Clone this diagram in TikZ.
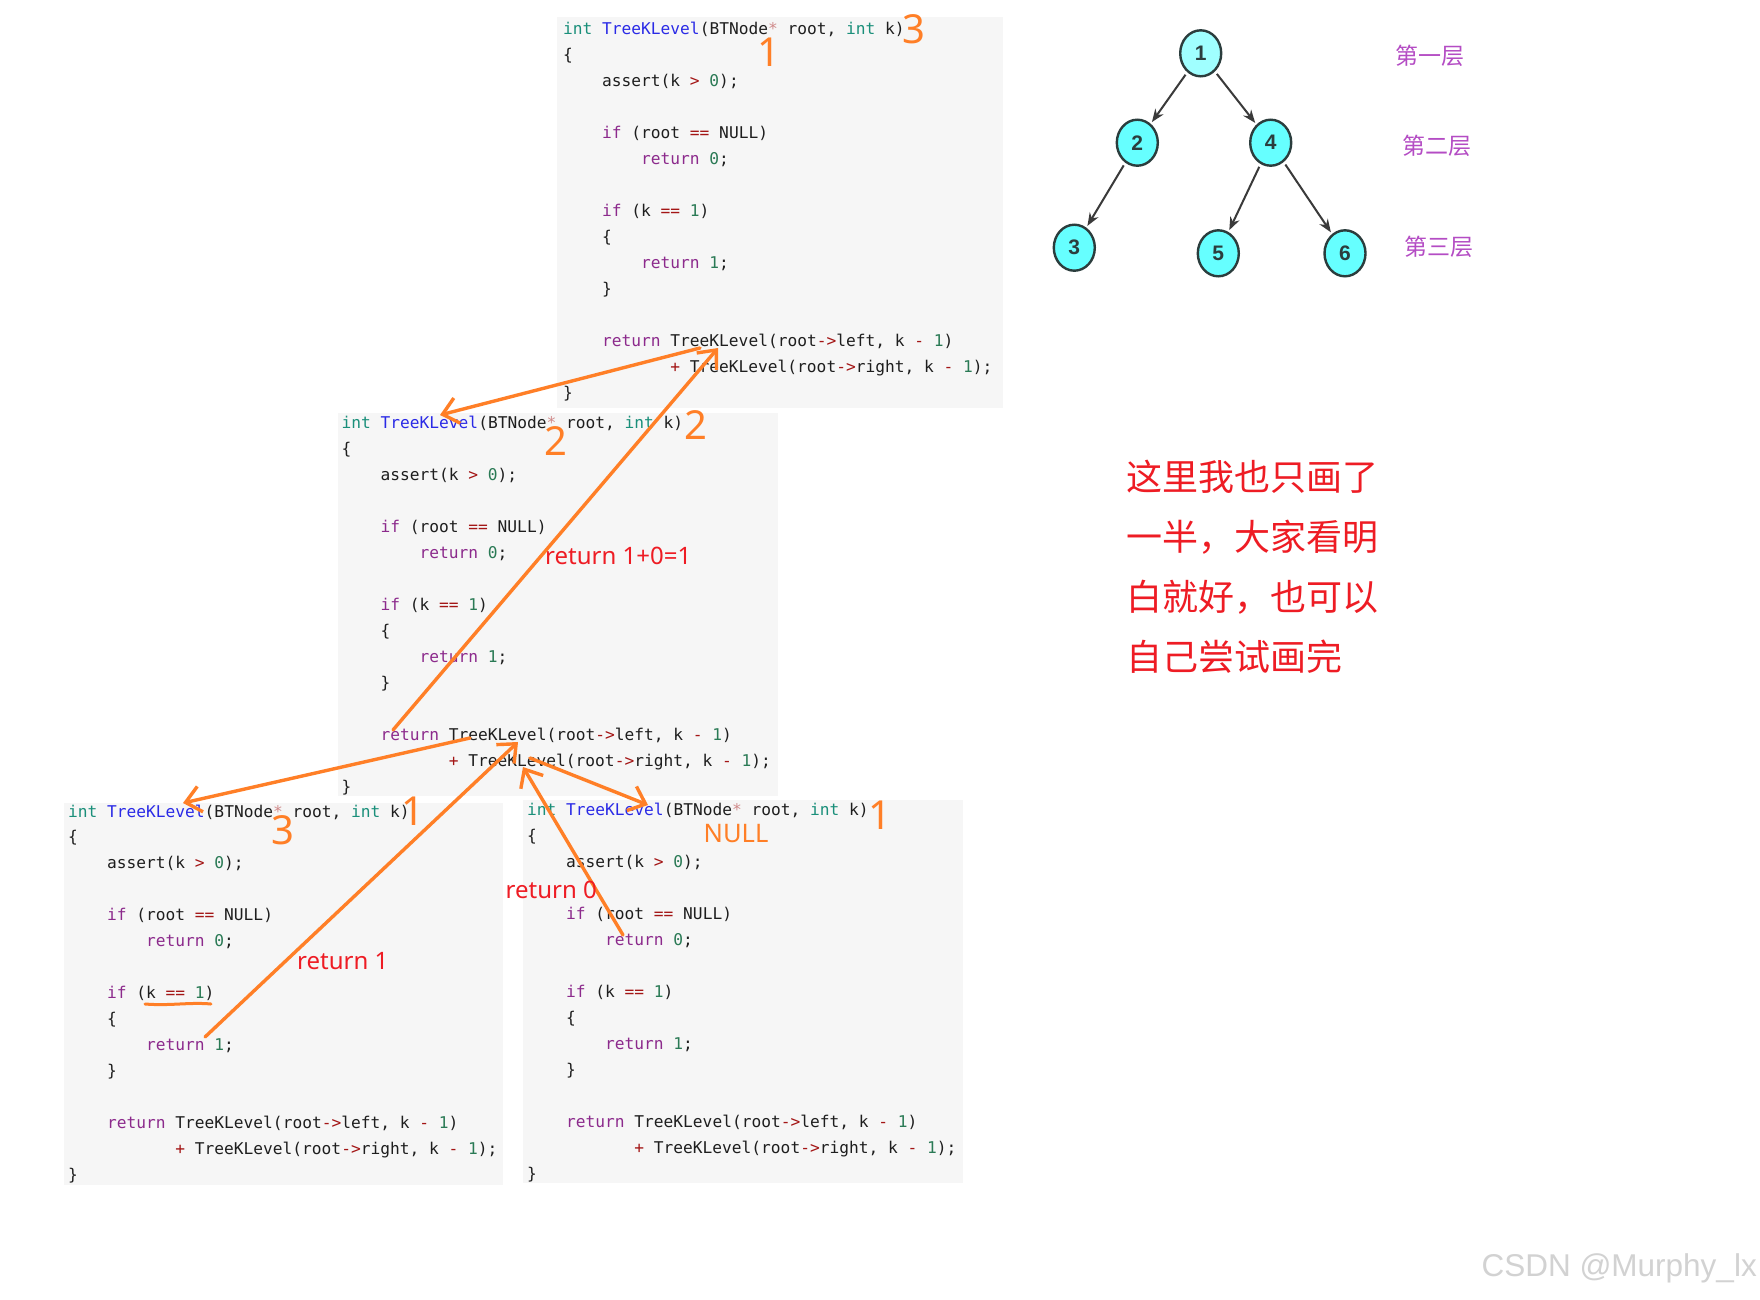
\documentclass[tikz,border=0pt]{standalone}
\usepackage{fontspec}
\setmonofont{DejaVu Sans Mono}
\newfontfamily\annfont{Noto Sans}
\newfontfamily\cjkfont{Noto Sans CJK SC}
\newfontfamily\wmfont{Liberation Sans}
\newfontfamily\treefont{Liberation Sans}
\usetikzlibrary{arrows.meta,shapes.geometric,calc}

\definecolor{codebg}{HTML}{F6F6F6}
\definecolor{ckw}{HTML}{1A8F7A}
\definecolor{cfn}{HTML}{2A2AE6}
\definecolor{cctl}{HTML}{8C2A8C}
\definecolor{cnum}{HTML}{2A7A55}
\definecolor{cop}{HTML}{A31515}
\definecolor{cptr}{HTML}{D08A8A}
\definecolor{ctxt}{HTML}{1E1E1E}
\definecolor{anorange}{HTML}{FF7F27}
\definecolor{anred}{HTML}{EE1C24}
\definecolor{lvl}{HTML}{B44CC4}
\definecolor{nodecyan}{HTML}{66FFFF}
\definecolor{nodecyanlt}{HTML}{A0FFFF}
\definecolor{nodeedge}{HTML}{2B3D3D}
\definecolor{treeline}{HTML}{3A3A3A}
\definecolor{wmgray}{HTML}{D2D2D2}

\newcommand\cdkw[1]{\textcolor{ckw}{#1}}
\newcommand\cdfn[1]{\textcolor{cfn}{#1}}
\newcommand\cdctl[1]{\textcolor{cctl}{#1}}
\newcommand\cdnum[1]{\textcolor{cnum}{#1}}
\newcommand\cdop[1]{\textcolor{cop}{#1}}
\newcommand\cdptr[1]{\textcolor{cptr}{#1}}
\def\cw{9.75}
\def\lp{25.97}

% #1 name, #2 box left, #3 box top, #4 box right, #5 box bottom, #6 text x, #7 first baseline
\newcommand\codeblock[7]{%
  \path (#2,#3) coordinate (#1-nw) (#4,#5) coordinate (#1-se);
  \fill[codebg] (#1-nw) rectangle (#1-se);
  \node[codeline] (#1-l1) at (#6,#7) {\cdkw{int} \cdfn{TreeKLevel}(BTNode\cdptr{*} root, \cdkw{int} k)};
  \node[codeline] (#1-l2) at (#6,{#7+1*\lp}) {\{};
  \node[codeline] (#1-l3) at ({#6+4*\cw},{#7+2*\lp}) {assert(k \cdop{>} \cdnum{0});};
  \node[codeline] (#1-l5) at ({#6+4*\cw},{#7+4*\lp}) {\cdctl{if} (root \cdop{==} NULL)};
  \node[codeline] (#1-l6) at ({#6+8*\cw},{#7+5*\lp}) {\cdctl{return} \cdnum{0};};
  \node[codeline] (#1-l8) at ({#6+4*\cw},{#7+7*\lp}) {\cdctl{if} (k \cdop{==} \cdnum{1})};
  \node[codeline] (#1-l9) at ({#6+4*\cw},{#7+8*\lp}) {\{};
  \node[codeline] (#1-l10) at ({#6+8*\cw},{#7+9*\lp}) {\cdctl{return} \cdnum{1};};
  \node[codeline] (#1-l11) at ({#6+4*\cw},{#7+10*\lp}) {\}};
  \node[codeline] (#1-l13) at ({#6+4*\cw},{#7+12*\lp}) {\cdctl{return} TreeKLevel(root\cdop{->}left, k \cdop{-} \cdnum{1})};
  \node[codeline] (#1-l14) at ({#6+11*\cw},{#7+13*\lp}) {\cdop{+} TreeKLevel(root\cdop{->}right, k \cdop{-} \cdnum{1});};
  \node[codeline] (#1-l15) at (#6,{#7+14*\lp}) {\}};
}

\begin{document}
\begin{tikzpicture}[x=1pt,y=-1pt,
  codeline/.style={anchor=base west, inner sep=0pt, text=ctxt,
    font=\ttfamily\fontsize{16.2}{20}\selectfont},
  orangearrow/.style={draw=anorange, line width=3.4pt, line cap=round,
    -{Straight Barb[length=15pt,width=26pt]}},
  orangeline/.style={draw=anorange, line width=3pt, line cap=round},
  onum/.style={inner sep=0pt, text=anorange, font=\annfont\fontsize{40}{40}\selectfont},
  otext/.style={inner sep=0pt, text=anorange, font=\annfont\fontsize{25.5}{26}\selectfont},
  rtext/.style={inner sep=0pt, text=anred, font=\annfont\fontsize{24}{24}\selectfont},
  cjkred/.style={inner sep=0pt, anchor=west, text=anred, font=\cjkfont\fontsize{36}{36}\selectfont},
  lvltext/.style={inner sep=0pt, text=lvl, font=\cjkfont\fontsize{23}{23}\selectfont},
  tnode/.style={ellipse, draw=nodeedge, line width=2.4pt, fill=nodecyan,
    minimum width=41pt, minimum height=46pt, inner sep=0pt, text=nodeedge,
    font=\treefont\bfseries\fontsize{21}{21}\selectfont},
  tedge/.style={draw=treeline, line width=2pt, shorten <=3pt, shorten >=2pt,
    -{Stealth[length=13pt,width=10pt]}},
  wmtext/.style={inner sep=0pt, text=wmgray, font=\wmfont\fontsize{31.5}{32}\selectfont}
]
\useasboundingbox (0,0) rectangle (1760,1299);
\fill[white] (0,0) rectangle (1760,1299);

% code blocks
\codeblock{A}{557}{17}{1003}{408}{563}{34.5}
\codeblock{B}{338}{413}{778}{796}{341.5}{428.5}
\codeblock{C}{64}{803}{503}{1185}{68}{817}
\codeblock{D}{523}{800}{963}{1183}{527}{815.5}

% tree
\node[tnode, fill=nodecyanlt] (t1) at (1200.7,53.3) {1};
\node[tnode] (t2) at (1137.3,142.7) {2};
\node[tnode] (t4) at (1270.7,142.7) {4};
\node[tnode] (t3) at (1074.3,247.7) {3};
\node[tnode] (t5) at (1218.3,253.3) {5};
\node[tnode] (t6) at (1345,253.3) {6};
\draw[tedge] (t1) -- (t2);
\draw[tedge] (t1) -- (t4);
\draw[tedge] (t2) -- (t3);
\draw[tedge] (t4) -- (t5);
\draw[tedge] (t4) -- (t6);
\node[lvltext] (lv1) at (1430,56) {第一层};
\node[lvltext] (lv2) at (1436.7,146) {第二层};
\node[lvltext] (lv3) at (1439,246.7) {第三层};

% red note
\node[cjkred] (n1) at (1126,477) {这里我也只画了};
\node[cjkred] (n2) at (1126,537) {一半，大家看明};
\node[cjkred] (n3) at (1126,597) {白就好，也可以};
\node[cjkred] (n4) at (1126,657) {自己尝试画完};

% orange call / return arrows
\coordinate (l1s) at (700,348); \coordinate (l1e) at (440,415);
\coordinate (l2s) at (393,730); \coordinate (l2e) at (718,348);
\coordinate (l3s) at (470,738); \coordinate (l3e) at (183,803);
\coordinate (l4s) at (205,1037); \coordinate (l4e) at (518,742);
\coordinate (l5s) at (530,758); \coordinate (l5e) at (648,805);
\coordinate (l6s) at (623,935); \coordinate (l6e) at (523,767);
\coordinate (u1) at (145,1004); \coordinate (u2) at (211,1004);
\draw[orangearrow] (l1s) -- (l1e);
\draw[orangearrow] (l2s) -- (l2e);
\draw[orangearrow] (l3s) -- (l3e);
\draw[orangearrow] (l4s) -- (l4e);
\draw[orangearrow] (l5s) -- (l5e);
\draw[orangearrow] (l6s) -- (l6e);
\draw[orangeline] (u1) .. controls (170,1006) and (190,1002) .. (u2);

% orange numbers
\node[onum] (a3) at (914,29) {3};
\node[onum] (a1) at (769,52) {1};
\node[onum] (b2r) at (696,425) {2};
\node[onum] (b2) at (556,441) {2};
\node[onum] (c3) at (282.5,830) {3};
\node[onum] (c1) at (413,811) {1};
\node[onum] (d1) at (880,815) {1};
\node[otext] (dnull) at (736,834) {NULL};

% red return labels
\node[rtext, anchor=west] (ret10) at (545,556) {return 1+0=1};
\node[rtext, anchor=west] (ret1) at (297,961) {return 1};
\node[rtext, anchor=east] (ret0) at (597,890) {return 0};

% watermark
\node[wmtext, anchor=east] (wm) at (1757,1268) {CSDN @Murphy\_lx};
\end{tikzpicture}
\end{document}
